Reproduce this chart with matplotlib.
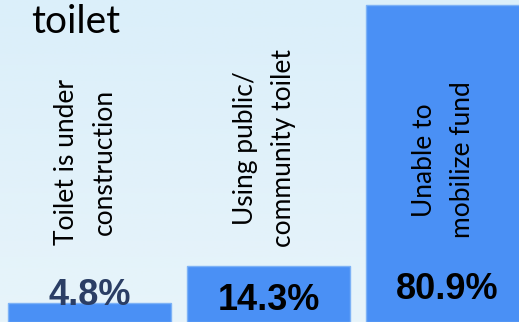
import numpy as np
import matplotlib.pyplot as plt
from matplotlib.colors import LinearSegmentedColormap

categories = ["Toilet is under\nconstruction",
              "Using public/\ncommunity toilet",
              "Unable to\nmobilize fund"]
values = [4.8, 14.3, 80.9]
value_labels = ["4.8%", "14.3%", "80.9%"]
value_colors = ["#2b3e65", "#000000", "#000000"]
title_text = "toilet"

fig = plt.figure(figsize=(5.19, 3.22), dpi=100)

# soft slide-style background gradient
bg = fig.add_axes([0, 0, 1, 1], zorder=0)
bg_cmap = LinearSegmentedColormap.from_list("bg", ["#dbeffa", "#e7f4fa"])
bg.imshow(np.linspace(0, 1, 256).reshape(-1, 1), aspect="auto", cmap=bg_cmap,
          extent=[0, 1, 0, 1])
bg.axis("off")

ax = fig.add_axes([0, 0, 1, 1], zorder=1)
ax.patch.set_alpha(0)

x = range(len(values))
ax.bar(x, values, width=0.91, color="#4a90f5", edgecolor="#7db2f6", linewidth=1.0)

ax.set_xlim(-0.5, -0.5 + 519 / 179)
ax.set_ylim(0, 322 / 3.92)
ax.axis("off")

# category labels, rotated, sitting above the value labels
label_bottom = [19.6, 19.1, 21.4]
for i, (cat, yb) in enumerate(zip(categories, label_bottom)):
    ax.text(i - 0.025, yb, cat, rotation=90, ha="center", va="bottom",
            fontsize=19, family="Lato", linespacing=1.65, color="black")

# value labels near the baseline
value_y = [6.7, 5.4, 8.2]
for i, (lab, col, yv) in enumerate(zip(value_labels, value_colors, value_y)):
    ax.text(i, yv, lab, ha="center", va="center", fontsize=26,
            fontweight="bold", color=col,
            family=["Liberation Sans Narrow", "Liberation Sans"])

fig.text(31 / 519, 1 - 33 / 322, title_text, ha="left", va="baseline",
         fontsize=28, family="Lato", color="black")

fig.savefig("out.png", dpi=100)
